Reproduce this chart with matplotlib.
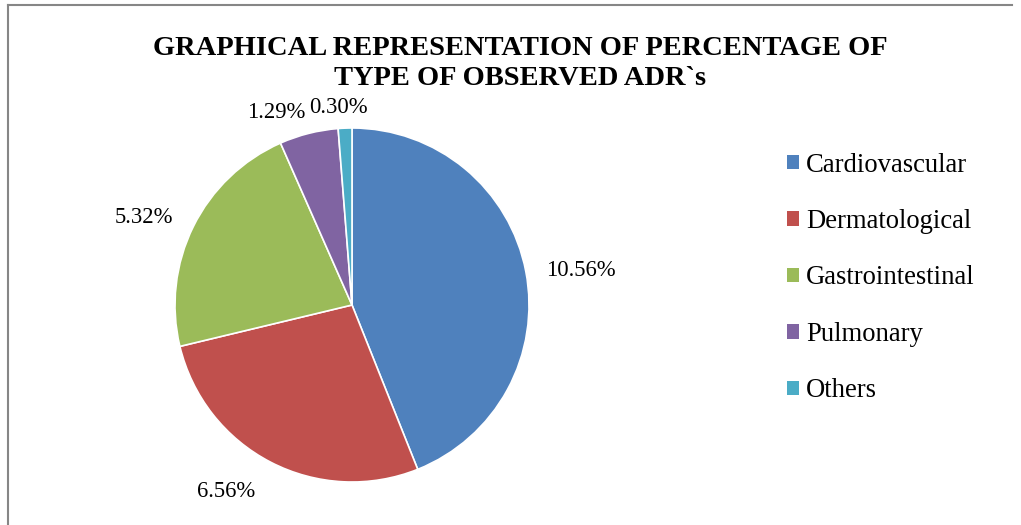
import matplotlib
matplotlib.use("Agg")
import matplotlib.pyplot as plt
from matplotlib.patches import Patch
from matplotlib.lines import Line2D

categories = ["Cardiovascular", "Dermatological", "Gastrointestinal", "Pulmonary", "Others"]
values = [10.56, 6.56, 5.32, 1.29, 0.30]
value_labels = ["10.56%", "6.56%", "5.32%", "1.29%", "0.30%"]
colors = ["#4F81BD", "#C0504D", "#9BBB59", "#8064A2", "#4BACC6"]
title = "GRAPHICAL REPRESENTATION OF PERCENTAGE OF\nTYPE OF OBSERVED ADR`s"

# layout: label anchor (baseline centre) positions in pie-radius units
label_xy = [(1.294, 0.164), (-0.712, -1.085), (-1.175, 0.463), (-0.429, 1.056), (-0.079, 1.085)]

plt.rcParams['font.family'] = ['Liberation Serif', 'DejaVu Serif']

W, H = 1021, 525
fig = plt.figure(figsize=(W / 100, H / 100), dpi=100)

cx, cy, r = 352, 305, 177
aw = 2.5 * r
ax = fig.add_axes([(cx - aw / 2) / W, (H - cy - aw / 2) / H, aw / W, aw / H])
wedges, texts = ax.pie(values, labels=value_labels, colors=colors, startangle=90,
                       counterclock=False, labeldistance=1.27,
                       wedgeprops=dict(edgecolor="white", linewidth=1.2),
                       textprops=dict(fontsize=16.3))
ax.set_aspect("equal")
for t, (x, y) in zip(texts, label_xy):
    t.set_position((x, y))
    t.set_ha("center")
    t.set_va("baseline")

fig.text(520 / W, 1 - 85 / H, title, ha="center", va="baseline", fontsize=20.5,
         fontweight="bold", linespacing=1.27, multialignment="center")

handles = [Patch(facecolor=c, edgecolor="none") for c in colors]
fig.legend(handles, categories, loc="center left", bbox_to_anchor=(787 / W, 1 - 278 / H),
           frameon=False, fontsize=19.2, handlelength=0.45, handleheight=0.45,
           handletextpad=0.27, labelspacing=1.18, borderpad=0, borderaxespad=0)

fig.add_artist(Line2D([7.5 / W, 1012 / W], [1 - 5 / H, 1 - 5 / H], color="#868686", lw=1.5))
fig.add_artist(Line2D([7.5 / W, 7.5 / W], [1 - 5 / H, 0], color="#868686", lw=1.5))

fig.savefig("out.png", dpi=100)
